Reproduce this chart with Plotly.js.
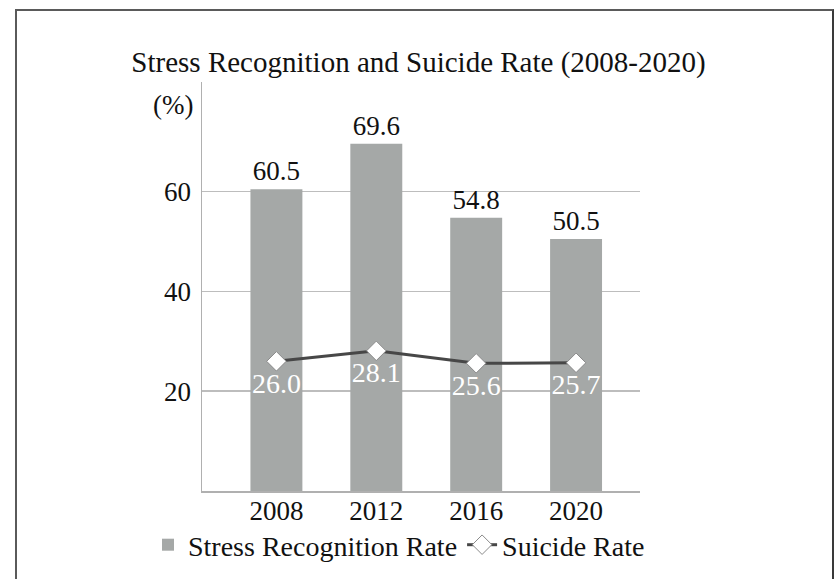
<!DOCTYPE html>
<html>
<head>
<meta charset="utf-8">
<script src="https://cdn.plot.ly/plotly-3.0.1.min.js"></script>
<style>
  html, body { margin: 0; padding: 0; background: #ffffff; }
  #wrap { position: relative; width: 837px; height: 579px; overflow: hidden; background: #fff; }
  #frame { position: absolute; left: 15px; top: 9px; width: 815px; height: 600px;
           border-left: 2px solid #5a5a5a; border-top: 2px solid #5a5a5a; border-right: 2px solid #3a3a3a; }
  #chart { position: absolute; left: 0; top: 0; width: 837px; height: 579px; }
</style>
</head>
<body>
<div id="wrap">
  <div id="frame"></div>
  <div id="chart"></div>
</div>
<script>
const years = ['2008', '2012', '2016', '2020'];
const stressRecognition = [60.5, 69.6, 54.8, 50.5];
const suicideRate = [26.0, 28.1, 25.6, 25.7];
const yTicks = [20, 40, 60];

const FONT = 'Times New Roman, Liberation Serif, serif';

const traces = [
  {
    type: 'bar',
    name: 'Stress Recognition Rate',
    x: years,
    y: stressRecognition,
    width: 0.52,
    marker: { color: '#a5a8a7' },
    text: stressRecognition.map(v => v.toFixed(1)),
    textposition: 'outside',
    textfont: { family: FONT, size: 27, color: '#111' },
    cliponaxis: false,
    hoverinfo: 'skip'
  },
  {
    type: 'scatter',
    mode: 'lines+markers+text',
    name: 'Suicide Rate',
    x: years,
    y: suicideRate,
    line: { color: '#474747', width: 3 },
    marker: { symbol: 'diamond', size: 15, color: '#ffffff', line: { color: '#8a8a8a', width: 1 } },
    text: suicideRate.map(v => v.toFixed(1)),
    textposition: 'bottom center',
    textfont: { family: FONT, size: 28, color: '#ffffff' },
    cliponaxis: false,
    hoverinfo: 'skip'
  }
];

const layout = {
  width: 837,
  height: 579,
  paper_bgcolor: 'rgba(0,0,0,0)',
  plot_bgcolor: 'rgba(0,0,0,0)',
  margin: { l: 202, r: 197, t: 82, b: 88, autoexpand: false },
  font: { family: FONT, size: 26, color: '#111' },
  title: {
    text: 'Stress Recognition and Suicide Rate (2008-2020)',
    font: { family: FONT, size: 29, color: '#111' },
    x: 0.5, xanchor: 'center',
    y: 1 - 62 / 579, yanchor: 'middle', yref: 'container'
  },
  showlegend: true,
  legend: {
    orientation: 'h',
    xref: 'paper', yref: 'paper',
    x: (148 - 202) / 438, xanchor: 'left',
    y: (491 - 545) / 409, yanchor: 'middle',
    font: { family: FONT, size: 28, color: '#111' },
    itemwidth: 30,
    traceorder: 'normal'
  },
  xaxis: {
    type: 'category',
    categoryorder: 'array',
    categoryarray: years,
    range: [-0.745, 3.64],
    automargin: false,
    showline: true,
    linecolor: '#b0b0b0',
    linewidth: 1.5,
    showgrid: false,
    ticks: '',
    ticklabelstandoff: -5,
    tickfont: { family: FONT, size: 27, color: '#111' },
    fixedrange: true
  },
  yaxis: {
    range: [0, 82],
    automargin: false,
    tickvals: yTicks,
    ticktext: yTicks.map(String),
    showline: true,
    linecolor: '#b0b0b0',
    linewidth: 1.5,
    showgrid: true,
    gridcolor: '#bdbdbd',
    gridwidth: 1.5,
    zeroline: false,
    ticks: '',
    ticklabelstandoff: 4,
    tickfont: { family: FONT, size: 27, color: '#111' },
    fixedrange: true
  },
  annotations: [
    {
      text: '(%)',
      xref: 'paper', yref: 'paper',
      x: -0.066, y: 0.944,
      xanchor: 'center', yanchor: 'middle',
      showarrow: false,
      font: { family: FONT, size: 27, color: '#111' }
    }
  ]
};

Plotly.newPlot('chart', traces, layout, { staticPlot: true, displayModeBar: false });
</script>
</body>
</html>
